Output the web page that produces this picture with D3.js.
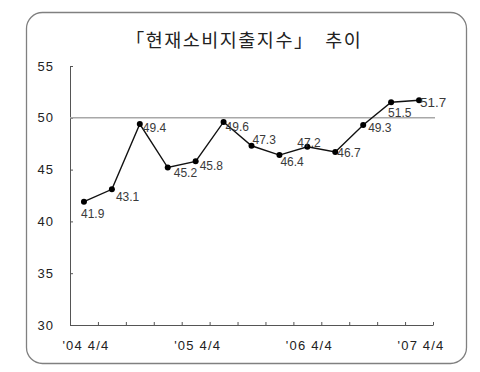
<!DOCTYPE html>
<html><head><meta charset="utf-8">
<script src="https://cdn.jsdelivr.net/npm/d3@7"></script>
<style>
html,body{margin:0;padding:0;background:#fff;}
svg{display:block;}
</style></head>
<body>
<svg id="chart" width="480" height="372"></svg>
<script>
// ---- data ----
const title = "「현재소비지출지수」  추이";
const quarters = ["'04 4/4","'05 1/4","'05 2/4","'05 3/4","'05 4/4","'06 1/4","'06 2/4","'06 3/4","'06 4/4","'07 1/4","'07 2/4","'07 3/4","'07 4/4"];
const values = [41.9, 43.1, 49.4, 45.2, 45.8, 49.6, 47.3, 46.4, 47.2, 46.7, 49.3, 51.5, 51.7];
const yTicks = [30, 35, 40, 45, 50, 55];
const xLabelQuarters = ["'04 4/4", "'05 4/4", "'06 4/4", "'07 4/4"];
const referenceValue = 50;

// ---- layout ----
const svg = d3.select("#chart");
const mLeft = 70, mRight = 433, mTop = 66, mBottom = 325;

svg.append("rect")
  .attr("x", 26.5).attr("y", 12.5).attr("width", 440).attr("height", 351)
  .attr("rx", 16).attr("ry", 16)
  .attr("fill", "#fff").attr("stroke", "#808080").attr("stroke-width", 1.3);

svg.append("text")
  .attr("x", 244).attr("y", 47)
  .attr("text-anchor", "middle")
  .attr("font-family", "'Noto Sans CJK KR', sans-serif")
  .attr("font-size", 18.5)
  .attr("letter-spacing", 1.5)
  .attr("fill", "#222")
  .attr("xml:space", "preserve")
  .text(title);

const x = d3.scaleLinear().domain([0, quarters.length]).range([mLeft, mRight]);
const y = d3.scaleLinear().domain([30, 55]).range([mBottom, mTop]);
const cx = i => x(i + 0.5);

// y axis
const yAxis = svg.append("g")
  .attr("transform", `translate(${mLeft},0)`)
  .call(d3.axisLeft(y).tickValues(yTicks).tickSizeInner(-3).tickSizeOuter(0).tickPadding(16));
yAxis.selectAll("path, line").attr("stroke", "#555").attr("stroke-width", 1);
yAxis.selectAll("text")
  .attr("font-family", "'Liberation Sans', Arial, sans-serif")
  .attr("font-size", 13).attr("fill", "#222").attr("letter-spacing", 1);

// x axis
const xAxis = svg.append("g")
  .attr("transform", `translate(0,${mBottom})`)
  .call(d3.axisBottom(x).tickValues(d3.range(0, quarters.length + 1)).tickSizeInner(-3).tickSizeOuter(0).tickFormat(""));
xAxis.selectAll("path, line").attr("stroke", "#555").attr("stroke-width", 1);

svg.append("g").selectAll("text")
  .data(xLabelQuarters)
  .join("text")
  .attr("x", d => cx(quarters.indexOf(d)) + 2)
  .attr("y", mBottom + 25)
  .attr("text-anchor", "middle")
  .attr("font-family", "'Liberation Sans', Arial, sans-serif")
  .attr("font-size", 13).attr("fill", "#222").attr("letter-spacing", 1.2)
  .attr("xml:space", "preserve")
  .text(d => d);

// reference line at 50
svg.append("line")
  .attr("x1", mLeft).attr("x2", x(quarters.length) + 2)
  .attr("y1", y(referenceValue)).attr("y2", y(referenceValue))
  .attr("stroke", "#a8a8a8").attr("stroke-width", 1.5);

// series line
svg.append("path")
  .datum(values)
  .attr("d", d3.line().x((d, i) => cx(i)).y(d => y(d)))
  .attr("fill", "none").attr("stroke", "#111").attr("stroke-width", 1.4);

svg.append("g").selectAll("circle")
  .data(values)
  .join("circle")
  .attr("cx", (d, i) => cx(i)).attr("cy", d => y(d)).attr("r", 3)
  .attr("fill", "#000");

// label nudges relative to each point
const nudge = [[-3,16],[4,12],[3,8],[6,9],[4,9],[2,9],[1,-2],[1,11],[-10,0],[2,5],[5,7],[-3,15],[1,7]];
svg.append("g").selectAll("text")
  .data(values)
  .join("text")
  .attr("x", (d, i) => cx(i) + nudge[i][0])
  .attr("y", (d, i) => y(d) + nudge[i][1])
  .attr("font-family", "'Liberation Sans', Arial, sans-serif")
  .attr("font-size", (d, i) => i === values.length - 1 ? 13.5 : 12)
  .attr("fill", "#3a3a3a")
  .text(d => d.toFixed(1));
</script>
</body></html>
